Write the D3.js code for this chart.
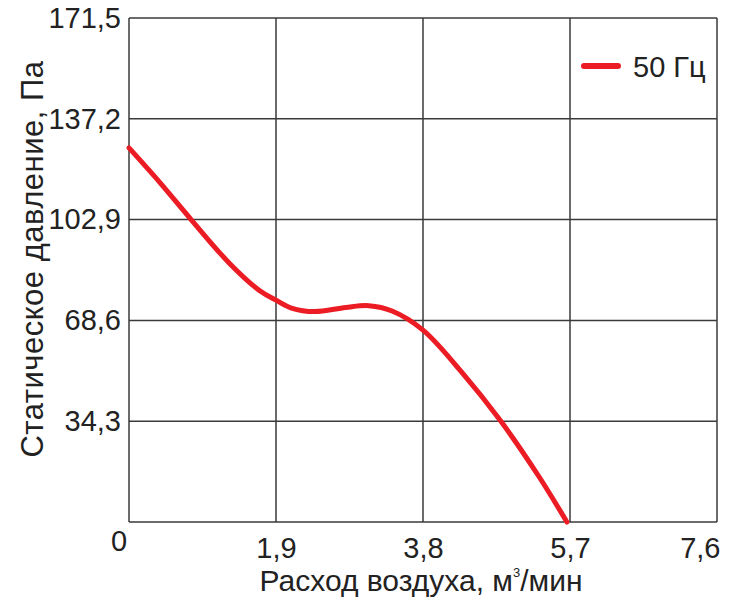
<!DOCTYPE html>
<html><head><meta charset="utf-8">
<script src="https://cdn.jsdelivr.net/npm/d3@7"></script>
<style>body{margin:0;background:#fff}text{font-family:"Liberation Sans",Arial,sans-serif;fill:#222}</style>
</head><body><svg id="c" width="733" height="600"></svg>
<script>
const xTicks = [0, 1.9, 3.8, 5.7, 7.6];
const yTicks = [0, 34.3, 68.6, 102.9, 137.2, 171.5];
const flow = [0, 0.4, 0.8, 1.3, 1.7, 1.9, 2.1, 2.4, 2.8, 3.1, 3.4, 3.8, 4.3, 4.8, 5.3, 5.66];
const pressure = [127.3, 115.5, 103, 88, 78.5, 75.5, 72.8, 71.6, 73, 73.6, 71.8, 65.3, 51, 34.5, 15.4, 0];
const seriesName = "50 Гц";

const svg = d3.select("#c");
const m = {l:129, r:717, t:18, b:522};
const x = d3.scaleLinear().domain([0,7.6]).range([m.l,m.r]);
const y = d3.scaleLinear().domain([0,171.5]).range([m.b,m.t]);
const fmt = d => d===0 ? "" : String(d).replace(".", ",");
const gridCol = "#3a3a3a";
const FF = "Liberation Sans, Arial, sans-serif";

// grid
svg.append("g").selectAll("line").data(xTicks).join("line")
  .attr("x1",d=>x(d)).attr("x2",d=>x(d)).attr("y1",m.t).attr("y2",m.b)
  .attr("stroke",gridCol).attr("stroke-width",1.5);
svg.append("g").selectAll("line").data(yTicks).join("line")
  .attr("y1",d=>y(d)).attr("y2",d=>y(d)).attr("x1",m.l).attr("x2",m.r)
  .attr("stroke",gridCol).attr("stroke-width",1.5);

// axes labels via d3 axes
const ax = svg.append("g").attr("transform",`translate(0,${m.b})`)
  .call(d3.axisBottom(x).tickValues(xTicks).tickFormat(fmt).tickSize(0).tickPadding(15));
ax.select(".domain").remove();
ax.selectAll("text").attr("font-size",29).style("font-family",FF).attr("fill","#222");
ax.selectAll(".tick").filter(d=>d===7.6).select("text").attr("text-anchor","end").attr("x",3);
const ay = svg.append("g").attr("transform",`translate(${m.l},0)`)
  .call(d3.axisLeft(y).tickValues(yTicks).tickFormat(fmt).tickSize(0).tickPadding(8));
ay.select(".domain").remove();
ay.selectAll("text").attr("font-size",29).style("font-family",FF).attr("fill","#222");
svg.append("text").attr("x",x(0)-10).attr("y",m.b+29).attr("text-anchor","middle").attr("font-size",29).text("0");

// axis titles
const xt = svg.append("text").attr("x",421).attr("y",591).attr("text-anchor","middle").attr("font-size",30);
xt.append("tspan").text("Расход воздуха, м");
xt.append("tspan").attr("font-size",13).attr("dy",-14).text("3");
xt.append("tspan").attr("dy",14).text("/мин");
svg.append("text").attr("transform","translate(43,259) rotate(-90)").attr("text-anchor","middle")
  .attr("font-size",31).attr("letter-spacing",0.5).text("Статическое давление, Па");

// curve
const pts = flow.map((f,i)=>[f,pressure[i]]);
svg.append("path").datum(pts)
  .attr("d", d3.line().x(d=>x(d[0])).y(d=>y(d[1])).curve(d3.curveCatmullRom.alpha(0.5)))
  .attr("fill","none").attr("stroke","#ec1c24").attr("stroke-width",5).attr("stroke-linecap","round");

// legend
svg.append("line").attr("x1",584).attr("x2",618).attr("y1",66).attr("y2",66)
  .attr("stroke","#ec1c24").attr("stroke-width",6).attr("stroke-linecap","round");
svg.append("text").attr("x",633).attr("y",77).attr("font-size",29).text(seriesName);
</script></body></html>
